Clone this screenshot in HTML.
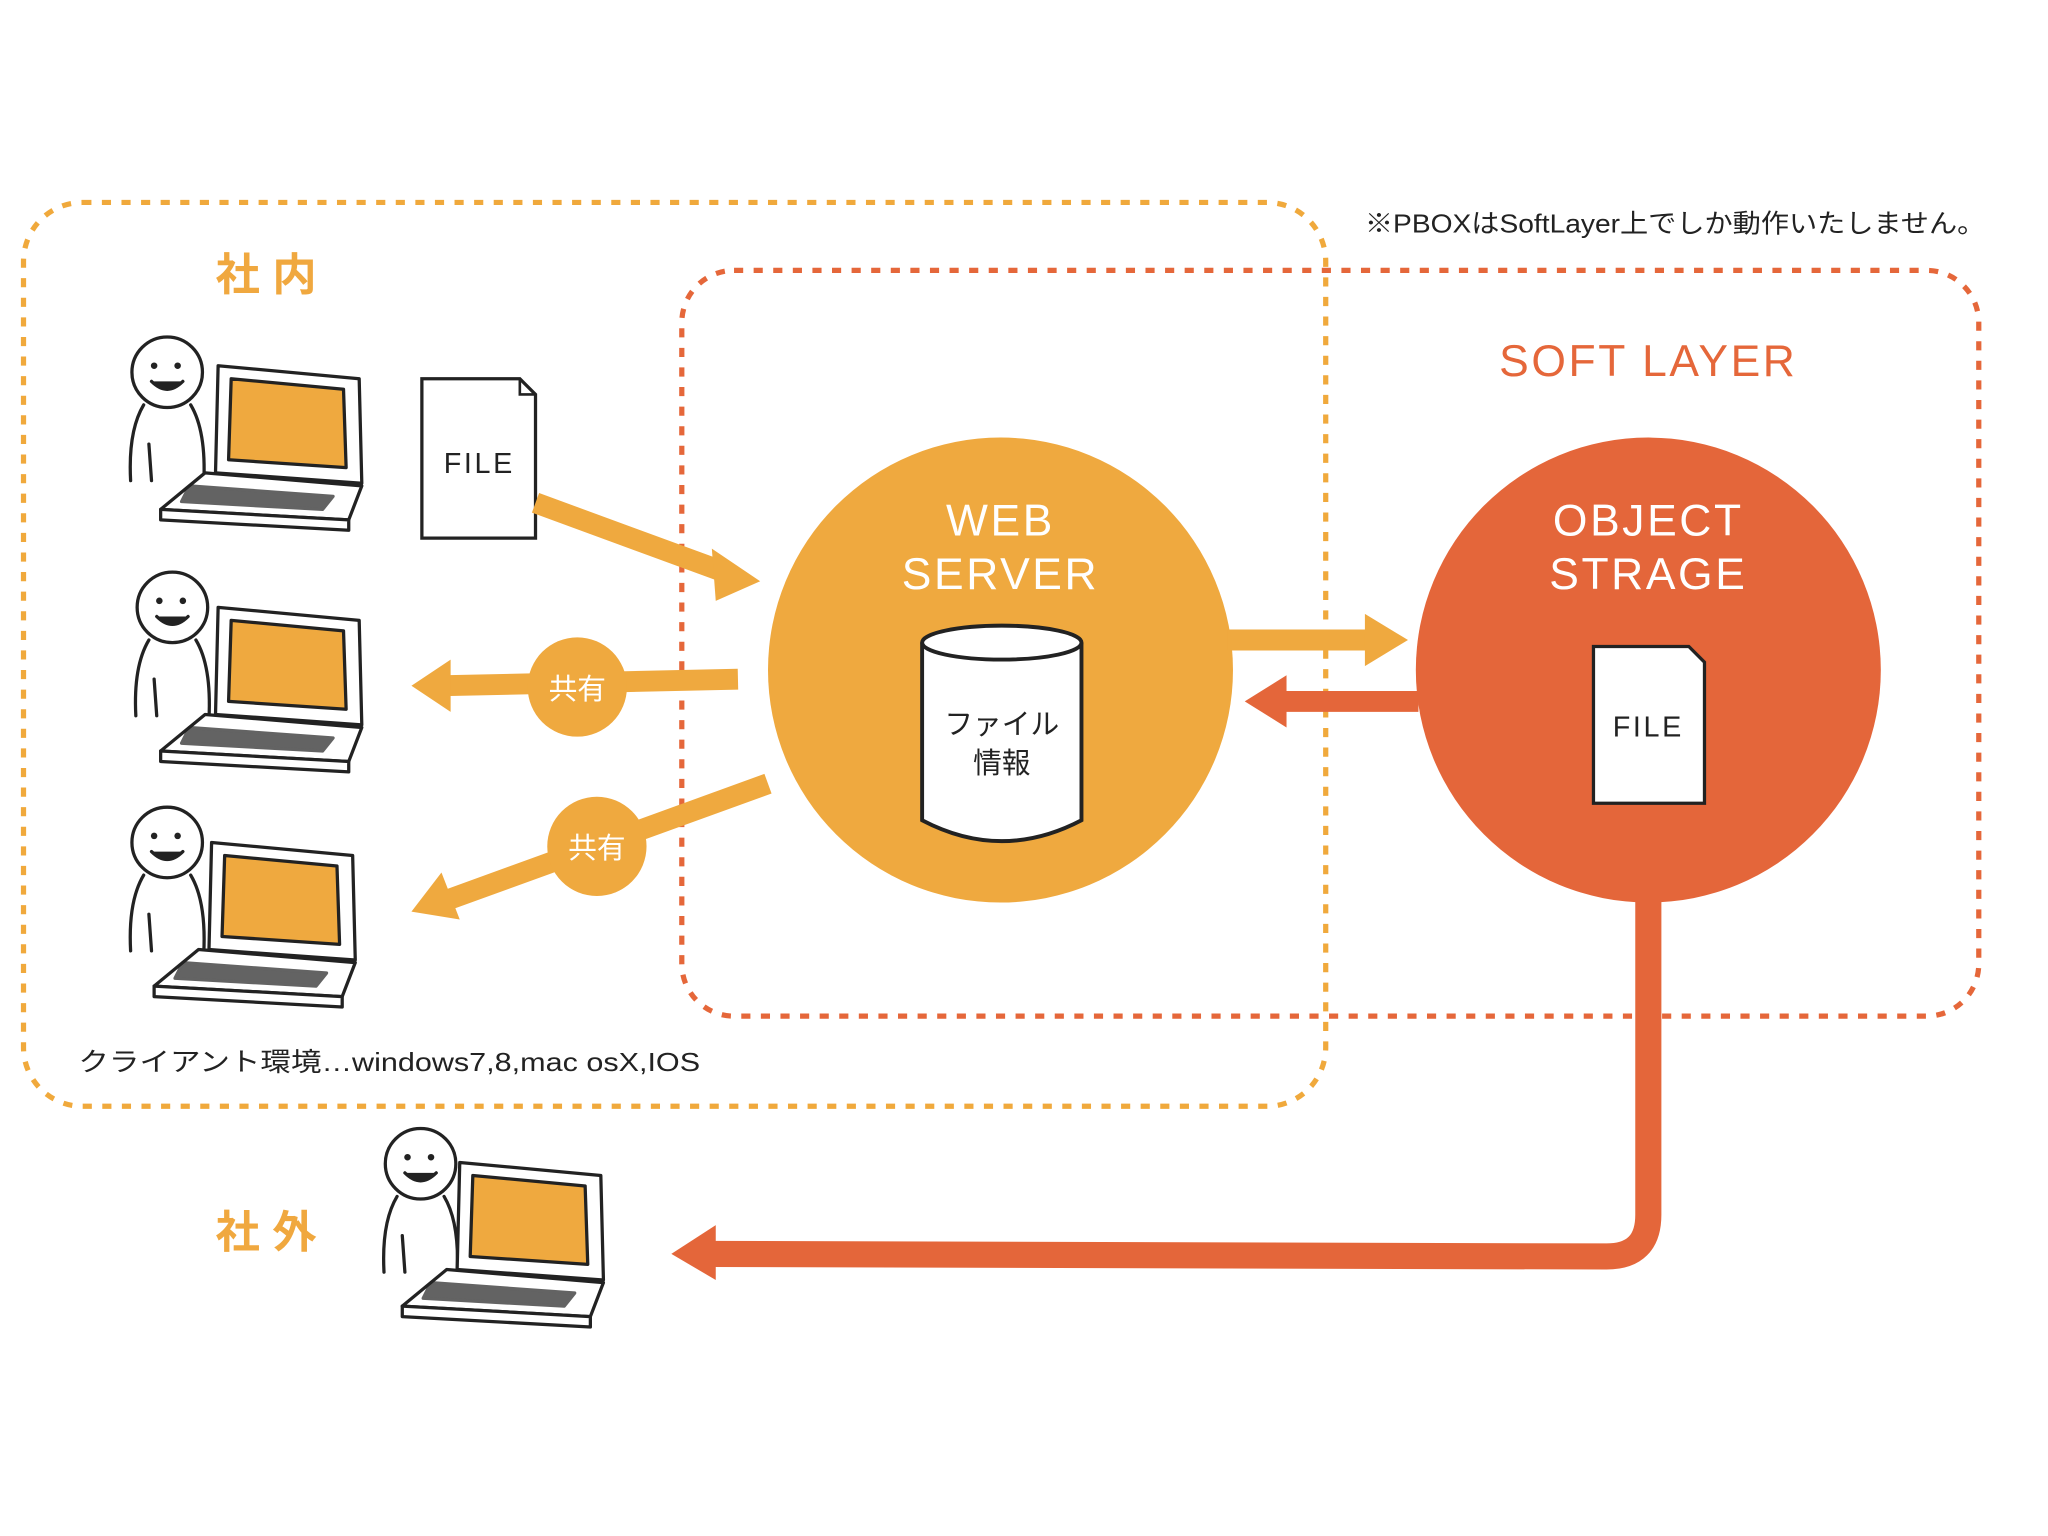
<!DOCTYPE html>
<html><head><meta charset="utf-8"><style>
html,body{margin:0;padding:0;background:#fff;}
svg{display:block;}
text{font-family:"Liberation Sans","Noto Sans CJK JP",sans-serif;}
</style></head><body>
<svg width="2048" height="1536" viewBox="0 0 1568 1176" xmlns="http://www.w3.org/2000/svg">
<defs>
<g id="person" fill="none" stroke="#222" stroke-width="2.5" stroke-linecap="round">
  <ellipse cx="30" cy="25" rx="27" ry="27" fill="#fff"/>
  <circle cx="20" cy="20" r="2.5" fill="#222" stroke="none"/>
  <circle cx="38" cy="20" r="2.5" fill="#222" stroke="none"/>
  <path d="M18 32 Q30 44 42 32" fill="#222"/>
  <path d="M12 50 Q0 70 2 108"/>
  <path d="M48 50 Q60 70 58 110"/>
  <path d="M16 80 L18 108"/>
</g>
<g id="laptop" stroke="#222" stroke-width="2.5" fill="#fff" stroke-linejoin="round">
  <path d="M72 30 L180 40 L182 120 L70 112 Z"/>
  <path d="M82 40 L168 48 L170 108 L80 102 Z" fill="#efa93f"/>
  <path d="M62 112 L182 122 L172 148 L28 140 Z"/>
  <path d="M50 122 L160 130 L152 140 L44 134 Z" fill="#222" opacity="0.7"/>
  <path d="M28 140 L172 148 L172 156 L28 148 Z"/>
</g>
</defs>

<rect x="18" y="155" width="997" height="692" rx="45" fill="none" stroke="#f0a93c" stroke-width="4" stroke-dasharray="7 8"/>
<rect x="522" y="207" width="993" height="571" rx="40" fill="none" stroke="#e5673a" stroke-width="4" stroke-dasharray="7 8"/>

<text x="165" y="222" font-size="34" fill="#f0a83f" font-weight="bold">社 内</text>
<text x="165" y="955" font-size="34" fill="#f0a83f" font-weight="bold">社 外</text>
<text x="1262" y="288" font-size="34" fill="#e5673a" text-anchor="middle" letter-spacing="2">SOFT LAYER</text>
<text x="1045" y="178" font-size="20" fill="#222" textLength="475" lengthAdjust="spacingAndGlyphs">※PBOXはSoftLayer上でしか動作いたしません。</text>
<text x="60" y="820" font-size="20" fill="#222" textLength="476" lengthAdjust="spacingAndGlyphs">クライアント環境…windows7,8,mac osX,IOS</text>

<use href="#person" x="98" y="260"/><use href="#laptop" x="95" y="250"/>
<use href="#person" x="102" y="440"/><use href="#laptop" x="95" y="435"/>
<use href="#person" x="98" y="620"/><use href="#laptop" x="90" y="615"/>
<use href="#person" x="292" y="866"/><use href="#laptop" x="280" y="860"/>

<path d="M323 290 L398 290 L410 302 L410 412 L323 412 Z" fill="#fff" stroke="#222" stroke-width="2.5"/>
<path d="M398 290 L398 302 L410 302" fill="none" stroke="#222" stroke-width="2"/>
<text x="367" y="362" font-size="22" fill="#222" text-anchor="middle" letter-spacing="2">FILE</text>

<path d="M410 385 L560 440" stroke="#efa93f" stroke-width="16" fill="none"/>
<path d="M545 420 L582 445 L548 460 Z" fill="#efa93f"/>
<path d="M565 520 L340 525" stroke="#efa93f" stroke-width="16"/>
<path d="M345 505 L315 525 L345 545 Z" fill="#efa93f"/>
<circle cx="442" cy="526" r="38" fill="#efa93f"/>
<text x="442" y="535" font-size="22" fill="#fff" text-anchor="middle">共有</text>
<path d="M588 600 L340 690" stroke="#efa93f" stroke-width="16"/>
<path d="M338 668 L315 698 L352 704 Z" fill="#efa93f"/>
<circle cx="457" cy="648" r="38" fill="#efa93f"/>
<text x="457" y="657" font-size="22" fill="#fff" text-anchor="middle">共有</text>

<circle cx="766" cy="513" r="178" fill="#efa93f"/>
<circle cx="1262" cy="513" r="178" fill="#e4663a"/>
<text x="766" y="410" font-size="34" fill="#fff" text-anchor="middle" letter-spacing="2">WEB</text>
<text x="766" y="451" font-size="34" fill="#fff" text-anchor="middle" letter-spacing="2">SERVER</text>
<text x="1262" y="410" font-size="34" fill="#fff" text-anchor="middle" letter-spacing="2">OBJECT</text>
<text x="1262" y="451" font-size="34" fill="#fff" text-anchor="middle" letter-spacing="2">STRAGE</text>

<path d="M706 492 L706 628 Q767 660 828 628 L828 492" fill="#fff" stroke="#222" stroke-width="3"/>
<ellipse cx="767" cy="492" rx="61" ry="13" fill="#fff" stroke="#222" stroke-width="3"/>
<text x="767" y="562" font-size="22" fill="#222" text-anchor="middle">ファイル</text>
<text x="767" y="592" font-size="22" fill="#222" text-anchor="middle">情報</text>

<path d="M1220 495 L1293 495 L1305 507 L1305 615 L1220 615 Z" fill="#fff" stroke="#222" stroke-width="2.5"/>
<text x="1262" y="564" font-size="22" fill="#222" text-anchor="middle" letter-spacing="2">FILE</text>

<path d="M940 490 L1050 490" stroke="#efa93f" stroke-width="16"/>
<path d="M1045 470 L1078 490 L1045 510 Z" fill="#efa93f"/>
<path d="M1086 537 L980 537" stroke="#e4663a" stroke-width="16"/>
<path d="M985 517 L953 537 L985 557 Z" fill="#e4663a"/>

<path d="M1262 685 L1262 930 Q1262 962 1230 962 L545 960" stroke="#e4663a" stroke-width="20" fill="none"/>
<path d="M548 938 L514 960 L548 980 Z" fill="#e4663a"/>
</svg>
</body></html>
